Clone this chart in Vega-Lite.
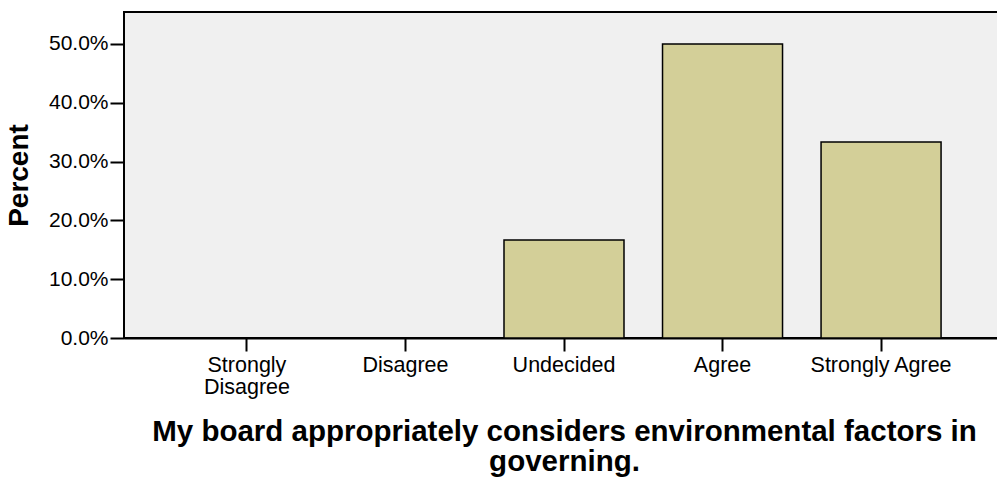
{
  "$schema": "https://vega.github.io/schema/vega-lite/v6.json",
  "autosize": {"type": "none"},
  "padding": {"left": 124, "top": 12, "right": 0, "bottom": 141},
  "width": 880,
  "height": 326,
  "background": "white",
  "config": {
    "font": "Liberation Sans",
    "view": {"fill": "#f0f0f0", "stroke": "black", "strokeWidth": 2},
    "axis": {"labelColor": "black", "titleColor": "black", "tickColor": "black", "domainColor": "black", "grid": false}
  },
  "data": {
    "values": [
      {"response": "Strongly Disagree", "percent": 0},
      {"response": "Disagree", "percent": 0},
      {"response": "Undecided", "percent": 0.1667},
      {"response": "Agree", "percent": 0.5},
      {"response": "Strongly Agree", "percent": 0.3333}
    ]
  },
  "mark": {"type": "bar", "fill": "#d3cf98", "stroke": "black", "strokeWidth": 1.5},
  "encoding": {
    "x": {
      "field": "response",
      "type": "nominal",
      "sort": ["Strongly Disagree", "Disagree", "Undecided", "Agree", "Strongly Agree"],
      "scale": {"paddingInner": 0.243, "paddingOuter": 0.397},
      "axis": {
        "title": ["My board appropriately considers environmental factors in", "governing."],
        "titleFontSize": 29.5,
        "titleFontWeight": "bold",
        "titleLineHeight": 30,
        "titlePadding": 20,
        "labelAngle": 0,
        "labelFontSize": 21.5,
        "labelLineHeight": 22,
        "labelPadding": 3,
        "labelExpr": "datum.label == 'Strongly Disagree' ? ['Strongly', 'Disagree'] : datum.label",
        "tickSize": 13,
        "tickWidth": 2,
        "domainWidth": 2
      }
    },
    "y": {
      "field": "percent",
      "type": "quantitative",
      "scale": {"domain": [0, 0.5544], "nice": false},
      "axis": {
        "title": "Percent",
        "titleFontSize": 28,
        "titleFontWeight": "bold",
        "titlePadding": 15,
        "format": ".1%",
        "values": [0, 0.1, 0.2, 0.3, 0.4, 0.5],
        "labelFontSize": 21,
        "labelPadding": 2,
        "tickSize": 14,
        "tickWidth": 2,
        "domain": false
      }
    }
  }
}
